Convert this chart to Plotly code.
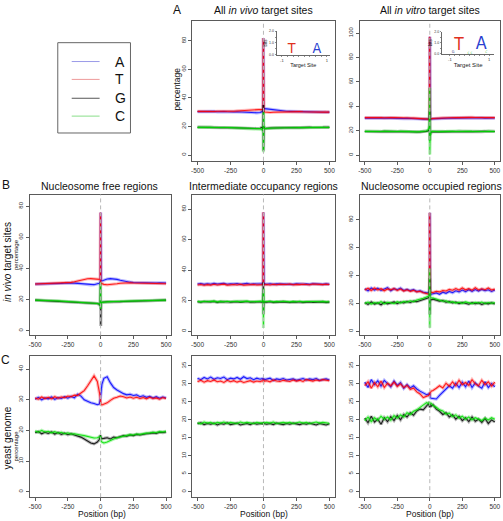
import plotly.graph_objects as go

W, H = 503, 521
FONT = "Liberation Sans, Arial, Helvetica, sans-serif"

# ---------------- data ----------------
positions = [-500, -475, -450, -425, -400, -375, -350, -325, -300, -275,
             -250, -225, -200, -175, -150, -125, -100, -75, -50, -25,
             -10, -3, -1, 0, 1, 3, 10,
             25, 50, 75, 100, 125, 150, 175, 200, 225, 250,
             275, 300, 325, 350, 375, 400, 425, 450, 475, 500]

bases = ["A", "T", "G", "C"]
x_ticks = [-500, -250, 0, 250, 500]
x_ticklabels = ["-500", "-250", "0", "250", "500"]

# A: all in vivo target sites
A1_A = [30.4, 30.5, 30.3, 30.5, 30.4, 30.6, 30.3, 30.5, 30.4, 30.3, 30.5, 30.2, 30.3, 30.1, 30.2, 30.0, 29.8, 29.7, 29.6, 29.8] + \
       [30.5, 31.5, 33.0, 82.0, 32.0, 33.0, 32.5] + \
       [32.3, 32.0, 31.6, 31.3, 31.0, 30.9, 30.7, 30.6, 30.5, 30.4, 30.5, 30.3, 30.4, 30.2, 30.3, 30.1, 30.2, 30.1, 30.0, 30.1]
A1_T = [30.6, 30.5, 30.7, 30.4, 30.6, 30.5, 30.7, 30.6, 30.5, 30.7, 30.8, 30.7, 30.9, 31.0, 31.1, 31.3, 31.5, 31.7, 31.8, 31.6] + \
       [31.5, 32.0, 82.0, 33.0, 31.0, 30.5, 30.2] + \
       [29.9, 29.8, 30.0, 30.1, 30.2, 30.3, 30.2, 30.4, 30.3, 30.2, 30.4, 30.3, 30.2, 30.4, 30.3, 30.2, 30.3, 30.1, 30.2, 30.1]
A1_G = [19.5, 19.4, 19.5, 19.3, 19.4, 19.3, 19.4, 19.2, 19.3, 19.2, 19.1, 19.2, 19.0, 19.1, 18.9, 19.0, 18.8, 18.7, 18.6, 18.8] + \
       [19.5, 17.0, 35.0, 3.0, 8.0, 20.0, 18.5] + \
       [18.8, 18.9, 19.0, 19.1, 19.0, 19.2, 19.1, 19.3, 19.2, 19.3, 19.2, 19.4, 19.3, 19.4, 19.3, 19.5, 19.4, 19.4, 19.5, 19.4]
A1_C = [19.4, 19.5, 19.3, 19.4, 19.5, 19.3, 19.4, 19.3, 19.2, 19.3, 19.2, 19.1, 19.2, 19.0, 19.1, 19.0, 18.9, 18.8, 18.7, 18.5] + \
       [18.0, 17.0, 22.0, 2.0, 30.0, 19.0, 18.5] + \
       [18.7, 18.8, 18.9, 19.0, 19.1, 19.0, 19.1, 19.2, 19.1, 19.2, 19.3, 19.2, 19.3, 19.2, 19.3, 19.4, 19.3, 19.4, 19.3, 19.4]

# A: all in vitro target sites
A2_A = [30.3, 30.5, 30.2, 30.4, 30.3, 30.5, 30.2, 30.4, 30.3, 30.1, 30.3, 30.2, 30.0, 30.2, 29.9, 30.1, 29.8, 29.6, 29.5, 29.4] + \
       [29.5, 30.0, 35.0, 97.0, 30.0, 29.8, 29.7] + \
       [29.8, 30.0, 30.1, 30.2, 30.3, 30.2, 30.4, 30.3, 30.5, 30.4, 30.3, 30.5, 30.4, 30.6, 30.4, 30.5, 30.3, 30.4, 30.5, 30.4]
A2_T = [30.7, 30.8, 30.6, 30.9, 30.7, 30.8, 30.6, 30.9, 30.7, 30.8, 30.6, 30.7, 30.5, 30.6, 30.4, 30.3, 30.1, 29.9, 29.7, 29.6] + \
       [29.5, 30.0, 97.0, 30.0, 29.5, 29.6, 29.8] + \
       [30.0, 30.2, 30.4, 30.5, 30.6, 30.7, 30.6, 30.8, 30.7, 30.9, 30.8, 30.7, 30.9, 30.8, 30.7, 30.9, 30.8, 30.7, 30.8, 30.7]
A2_G = [19.4, 19.3, 19.5, 19.2, 19.4, 19.3, 19.5, 19.3, 19.4, 19.2, 19.3, 19.4, 19.2, 19.3, 19.1, 19.2, 19.0, 19.1, 19.2, 19.5] + \
       [20.0, 22.0, 36.0, 12.0, 30.0, 17.0, 19.0] + \
       [19.3, 19.2, 19.1, 19.3, 19.2, 19.4, 19.3, 19.2, 19.4, 19.3, 19.5, 19.4, 19.3, 19.5, 19.4, 19.3, 19.5, 19.4, 19.3, 19.4]
A2_C = [19.5, 19.4, 19.6, 19.3, 19.5, 19.4, 19.6, 19.4, 19.5, 19.3, 19.4, 19.5, 19.3, 19.4, 19.2, 19.3, 19.1, 19.2, 19.4, 19.8] + \
       [21.0, 24.0, 55.0, 0.5, 25.0, 15.0, 19.5] + \
       [19.6, 19.4, 19.3, 19.5, 19.4, 19.6, 19.5, 19.4, 19.6, 19.5, 19.4, 19.6, 19.5, 19.4, 19.6, 19.5, 19.4, 19.6, 19.5, 19.4]

# B: in vivo target sites, nucleosome free regions
B1_A = [30.0, 30.0, 30.1, 30.1, 30.2, 30.2, 30.3, 30.3, 30.4, 30.5, 30.6, 30.7, 30.6, 30.4, 30.2, 29.9, 29.7, 29.5, 29.6, 30.2] + \
       [30.5, 31.5, 33.0, 76.0, 33.0, 32.5, 32.0] + \
       [32.5, 33.2, 33.5, 33.4, 33.0, 32.4, 31.9, 31.5, 31.2, 31.0, 30.9, 30.9, 30.8, 30.8, 30.8, 30.8, 30.7, 30.8, 30.7, 30.7]
B1_T = [30.0, 30.1, 30.1, 30.2, 30.2, 30.3, 30.3, 30.4, 30.5, 30.6, 30.8, 31.1, 31.5, 32.0, 32.6, 33.1, 33.4, 33.5, 33.3, 33.0] + \
       [33.0, 33.5, 76.0, 33.0, 31.0, 30.5, 30.2] + \
       [29.8, 29.5, 29.6, 29.9, 30.2, 30.5, 30.7, 30.8, 30.8, 30.7, 30.6, 30.5, 30.5, 30.4, 30.4, 30.3, 30.3, 30.3, 30.2, 30.2]
B1_G = [19.7, 19.6, 19.6, 19.5, 19.4, 19.3, 19.2, 19.1, 19.0, 18.9, 18.8, 18.6, 18.4, 18.2, 18.0, 17.9, 17.8, 17.7, 17.6, 17.5] + \
       [17.0, 16.0, 30.0, 4.0, 3.0, 18.0, 18.3] + \
       [18.5, 18.6, 18.6, 18.5, 18.6, 18.7, 18.8, 18.9, 18.9, 19.0, 19.1, 19.2, 19.2, 19.3, 19.4, 19.4, 19.5, 19.6, 19.6, 19.7]
B1_C = [19.7, 19.7, 19.6, 19.6, 19.5, 19.4, 19.3, 19.2, 19.1, 19.0, 18.9, 18.8, 18.7, 18.5, 18.4, 18.3, 18.2, 18.0, 17.8, 17.5] + \
       [17.2, 16.5, 31.0, 14.0, 20.0, 18.0, 18.2] + \
       [18.4, 18.6, 18.7, 18.8, 18.8, 18.9, 19.0, 19.0, 19.1, 19.2, 19.2, 19.3, 19.3, 19.4, 19.5, 19.5, 19.6, 19.6, 19.7, 19.7]

# B: intermediate occupancy regions
B2_A = [30.9, 31.2, 30.7, 31.1, 30.8, 31.3, 30.9, 31.0, 31.4, 30.8, 31.1, 30.9, 31.2, 30.7, 31.0, 31.3, 30.8, 31.1, 30.9, 31.2] + \
       [31.0, 32.0, 34.0, 78.0, 32.5, 31.5, 31.0] + \
       [30.8, 31.1, 30.7, 31.0, 30.9, 31.2, 30.8, 31.0, 30.7, 31.1, 30.9, 30.8, 31.0, 30.7, 31.1, 30.8, 30.9, 30.7, 31.0, 30.8]
B2_T = [30.3, 30.6, 30.1, 30.5, 30.2, 30.7, 30.3, 30.5, 30.8, 30.2, 30.4, 30.6, 30.3, 30.7, 30.2, 30.5, 30.4, 30.6, 30.3, 30.5] + \
       [30.5, 31.5, 78.0, 31.0, 30.3, 30.6, 30.4] + \
       [30.6, 30.3, 30.7, 30.4, 30.8, 30.5, 30.6, 30.9, 30.4, 30.7, 30.5, 30.8, 30.6, 30.4, 30.9, 30.6, 30.7, 30.5, 30.8, 30.6]
B2_G = [19.3, 19.0, 19.4, 19.1, 19.2, 19.5, 18.9, 19.3, 19.1, 19.4, 19.0, 19.2, 19.3, 18.9, 19.2, 19.4, 19.0, 19.3, 19.1, 19.2] + \
       [19.0, 20.0, 32.0, 11.0, 16.0, 19.5, 19.0] + \
       [19.0, 19.3, 18.9, 19.2, 19.0, 19.3, 19.1, 18.8, 19.2, 19.0, 19.3, 18.9, 19.1, 19.2, 18.9, 19.1, 19.0, 19.2, 18.9, 19.0]
B2_C = [19.5, 19.2, 19.6, 19.3, 19.5, 19.7, 19.2, 19.5, 19.3, 19.6, 19.3, 19.5, 19.6, 19.2, 19.4, 19.7, 19.3, 19.5, 19.4, 19.5] + \
       [19.5, 21.0, 25.0, 2.0, 28.0, 19.0, 19.3] + \
       [19.4, 19.6, 19.2, 19.5, 19.3, 19.6, 19.4, 19.2, 19.5, 19.3, 19.6, 19.2, 19.4, 19.5, 19.2, 19.4, 19.3, 19.5, 19.2, 19.3]

# B: nucleosome occupied regions
B3_A = [30.5, 29.0, 31.0, 29.5, 30.8, 29.3, 30.2, 31.2, 29.0, 30.5, 29.8, 30.9, 29.2, 30.0, 29.1, 29.8, 28.5, 29.0, 28.0, 27.5] + \
       [27.8, 28.5, 33.0, 85.0, 29.0, 27.0, 26.5] + \
       [26.8, 27.5, 26.5, 28.0, 27.2, 28.5, 27.6, 29.0, 28.2, 29.5, 28.4, 29.8, 28.6, 29.9, 28.8, 30.0, 29.0, 29.7, 28.5, 29.5]
B3_T = [29.5, 30.8, 29.2, 31.0, 29.6, 30.5, 29.0, 30.3, 29.7, 30.6, 29.2, 30.2, 28.8, 29.7, 28.6, 29.3, 28.2, 28.6, 27.6, 27.2] + \
       [27.0, 26.5, 85.0, 28.0, 28.5, 27.5, 28.0] + \
       [27.8, 28.6, 28.2, 29.2, 28.8, 30.0, 29.4, 30.6, 29.5, 31.0, 29.7, 30.5, 29.4, 31.2, 29.6, 30.4, 29.8, 31.0, 29.6, 30.2]
B3_G = [20.5, 19.2, 21.0, 19.5, 20.3, 19.0, 20.8, 19.6, 20.2, 21.0, 19.8, 20.9, 20.3, 21.3, 20.6, 21.6, 21.2, 22.0, 22.6, 23.5] + \
       [24.0, 25.0, 38.0, 12.0, 22.0, 23.0, 22.5] + \
       [23.0, 22.2, 21.6, 22.0, 20.8, 21.3, 20.3, 20.9, 19.8, 20.6, 20.1, 19.4, 20.5, 19.7, 20.3, 19.2, 20.1, 19.6, 20.4, 19.5]
B3_C = [19.8, 20.9, 19.5, 20.6, 20.0, 21.2, 19.7, 20.8, 20.4, 19.8, 21.2, 20.3, 21.4, 20.8, 21.8, 21.2, 22.4, 22.8, 23.6, 24.5] + \
       [25.0, 26.0, 45.0, 2.5, 30.0, 24.5, 24.0] + \
       [23.8, 23.0, 22.5, 21.5, 21.8, 20.6, 21.2, 20.2, 20.8, 20.0, 21.0, 20.4, 19.8, 20.7, 20.2, 20.9, 19.9, 20.6, 20.1, 20.5]

# C: yeast genome, nucleosome free regions
C1_A = [30.2, 30.8, 30.0, 30.6, 30.3, 30.9, 30.1, 30.7, 30.4, 31.0, 30.5, 31.1, 30.6, 31.8, 31.2, 30.0, 29.5, 29.0, 28.8, 28.4] + \
       [28.6, 29.5, 30.5, 31.0, 31.5, 33.0, 35.0] + \
       [37.0, 37.5, 35.5, 34.0, 33.2, 32.5, 32.0, 31.6, 31.8, 31.4, 31.6, 31.0, 31.3, 30.8, 31.1, 30.6, 31.0, 30.5, 30.9, 30.6]
C1_T = [30.6, 30.2, 30.9, 30.4, 30.8, 30.3, 31.0, 30.5, 30.9, 30.7, 31.2, 31.0, 31.5, 31.4, 32.2, 33.0, 34.5, 36.0, 37.8, 36.0] + \
       [33.0, 31.0, 30.0, 29.0, 28.6, 28.5, 28.3] + \
       [28.6, 29.0, 29.8, 30.5, 30.8, 31.2, 31.0, 30.6, 30.9, 30.5, 30.8, 30.4, 30.7, 30.3, 30.8, 30.4, 30.6, 30.2, 30.7, 30.4]
C1_G = [19.2, 19.6, 18.9, 19.4, 19.0, 19.5, 18.8, 19.3, 18.7, 19.1, 18.6, 18.9, 18.5, 18.2, 17.8, 17.2, 16.5, 15.9, 15.6, 16.2] + \
       [17.0, 18.0, 18.5, 18.3, 18.0, 17.6, 17.3] + \
       [17.4, 17.6, 17.2, 17.8, 17.6, 18.0, 18.3, 18.1, 18.5, 18.3, 18.7, 18.5, 18.8, 18.9, 19.0, 19.2, 19.0, 19.4, 19.3, 19.5]
C1_C = [19.8, 19.4, 20.0, 19.5, 19.7, 19.2, 19.6, 19.1, 19.4, 18.9, 19.2, 18.8, 18.9, 18.6, 18.5, 18.3, 18.0, 17.8, 17.5, 17.6] + \
       [17.8, 18.0, 18.2, 17.8, 17.2, 16.6, 16.2] + \
       [15.9, 16.2, 16.8, 17.2, 17.6, 17.9, 18.2, 18.3, 18.6, 18.5, 18.8, 18.7, 19.0, 19.1, 19.2, 19.4, 19.3, 19.6, 19.5, 19.7]

# C: intermediate occupancy regions
C2_A = [31.6, 31.2, 31.8, 31.4, 31.9, 31.3, 31.7, 31.5, 31.9, 31.2, 31.6, 31.4, 31.8, 31.3, 32.0, 31.5, 31.7, 31.2, 31.6, 31.3] + \
       [31.5, 31.2, 31.6, 31.4, 31.1, 31.5, 31.2] + \
       [31.3, 31.6, 31.0, 31.4, 31.2, 31.5, 31.1, 31.3, 31.4, 31.0, 31.3, 31.5, 31.1, 31.4, 31.2, 31.5, 31.0, 31.3, 31.4, 31.1]
C2_T = [30.6, 31.0, 30.5, 30.9, 30.7, 31.1, 30.6, 30.8, 30.4, 31.0, 30.6, 30.9, 30.5, 30.8, 30.4, 30.7, 30.9, 30.5, 30.8, 30.6] + \
       [30.9, 30.7, 31.0, 30.8, 30.6, 31.0, 30.8] + \
       [30.9, 30.6, 31.1, 30.8, 30.7, 31.0, 30.9, 30.7, 31.1, 30.8, 31.0, 30.7, 31.2, 30.9, 30.8, 31.1, 30.9, 31.2, 31.0, 30.9]
C2_G = [18.9, 19.2, 18.7, 19.0, 18.8, 19.1, 18.6, 19.0, 18.8, 19.2, 18.7, 18.9, 19.1, 18.6, 18.9, 19.0, 18.7, 19.1, 18.8, 19.0] + \
       [18.9, 19.1, 18.7, 19.0, 18.8, 19.1, 18.9] + \
       [18.8, 19.0, 18.7, 19.1, 18.9, 18.7, 19.0, 18.8, 19.1, 18.9, 18.7, 19.0, 18.8, 19.1, 18.9, 18.6, 19.0, 18.8, 18.6, 18.9]
C2_C = [19.2, 18.9, 19.4, 19.1, 19.3, 18.9, 19.3, 19.1, 19.4, 19.0, 19.3, 19.2, 19.0, 19.4, 19.1, 19.3, 19.2, 19.0, 19.3, 19.1] + \
       [19.2, 19.0, 19.3, 19.1, 19.3, 19.0, 19.2] + \
       [19.3, 19.1, 19.4, 19.0, 19.2, 19.3, 19.1, 19.3, 19.0, 19.2, 19.4, 19.1, 19.3, 19.0, 19.2, 19.4, 19.1, 19.3, 19.2, 19.0]

# C: nucleosome occupied regions
C3_A = [30.5, 29.0, 31.2, 29.8, 30.9, 29.4, 31.0, 30.0, 29.2, 30.8, 29.6, 30.4, 28.8, 29.8, 28.9, 29.5, 28.6, 28.0, 27.5, 27.0] + \
       [27.2, 26.8, 27.5, 27.0, 26.5, 26.2, 26.0] + \
       [26.0, 25.8, 26.8, 27.8, 28.6, 29.5, 28.8, 30.2, 29.0, 30.5, 29.2, 30.8, 29.0, 30.3, 29.4, 28.8, 30.6, 29.0, 30.1, 29.2]
C3_T = [29.5, 30.6, 28.8, 30.4, 29.2, 30.8, 29.0, 30.2, 29.5, 30.5, 29.3, 30.0, 29.0, 29.6, 28.5, 28.8, 27.8, 27.2, 26.2, 26.5] + \
       [26.8, 27.0, 26.6, 27.2, 27.8, 27.5, 28.0] + \
       [28.2, 28.8, 29.5, 28.9, 30.2, 29.4, 30.6, 29.5, 31.0, 29.8, 30.4, 29.6, 31.2, 30.0, 29.5, 31.0, 29.8, 30.6, 29.4, 30.5]
C3_G = [20.5, 19.2, 21.0, 19.4, 20.2, 18.8, 20.6, 19.5, 20.9, 19.8, 21.2, 20.0, 21.5, 20.8, 22.0, 21.3, 22.5, 23.0, 22.8, 24.0] + \
       [24.5, 23.8, 24.2, 23.5, 24.0, 24.6, 23.8] + \
       [24.2, 23.0, 22.4, 21.5, 22.0, 20.8, 21.4, 20.2, 21.0, 19.8, 20.6, 19.5, 20.8, 19.6, 20.2, 19.3, 20.4, 19.0, 20.0, 19.4]
C3_C = [19.8, 20.8, 19.5, 20.6, 19.9, 21.0, 20.2, 20.8, 19.9, 21.2, 20.5, 21.4, 20.8, 22.0, 21.5, 22.4, 22.8, 23.5, 24.2, 24.8] + \
       [24.5, 25.0, 24.2, 24.8, 25.0, 24.5, 24.6] + \
       [24.0, 23.5, 22.8, 22.5, 21.6, 21.9, 20.9, 21.4, 20.5, 21.0, 20.2, 20.8, 20.0, 20.6, 20.3, 19.8, 20.5, 20.0, 20.6, 20.2]

# sequence logo insets (information content in bits)
logo1_letters = ["T", "A"]
logo1_pos = [-0.56, 0.56]
logo1_bits = [0.85, 0.85]
logo2_letters = ["G", "T", "C", "C", "A", "C"]
logo2_pos = [-0.83, -0.53, -0.05, 0.1, 0.6, 0.86]
logo2_bits = [0.35, 1.55, 0.06, 0.06, 1.6, 0.3]
logo_y_ticks = [0, 0.5, 1, 1.5, 2]
logo_y_ticklabels = ["0.0", "", "1.0", "", "2.0"]
logo_x_ticks = [-1, -0.75, -0.5, -0.25, 0, 0.25, 0.5, 0.75, 1]
logo_x_ticklabels = ["-1", "", "", "", "", "", "", "", "1"]

# ---------------- styling ----------------
line_col = {"A": "#0000ff", "T": "#ff0000", "G": "#000000", "C": "#00e000"}
legend_col = {"A": "#9a9ae8", "T": "#ee9a9a", "G": "#555555", "C": "#8ade8a"}
logo_col = {"A": "#2a3fd0", "T": "#e0301e", "G": "#1f2f7a", "C": "#3fbf3f"}


def xd(a, b):
    return [a / W, b / W]


def yd(top, bottom):
    return [1 - bottom / H, 1 - top / H]


panels = [
    # name, data dict, x-domain px, y-domain px, yrange, yticks
    ("A1", dict(A=A1_A, T=A1_T, G=A1_G, C=A1_C), (192, 335), (19, 160), [-4, 94], [0, 20, 40, 60, 80]),
    ("A2", dict(A=A2_A, T=A2_T, G=A2_G, C=A2_C), (360, 501), (19, 160), [-4.6, 110], [0, 20, 40, 60, 80, 100]),
    ("B1", dict(A=B1_A, T=B1_T, G=B1_G, C=B1_C), (29, 171), (194, 336), [-3, 87.5], [0, 20, 40, 60, 80]),
    ("B2", dict(A=B2_A, T=B2_T, G=B2_G, C=B2_C), (192, 335), (194, 336), [-2.8, 89.6], [0, 20, 40, 60, 80]),
    ("B3", dict(A=B3_A, T=B3_T, G=B3_G, C=B3_C), (360, 501), (194, 336), [-3, 98], [0, 20, 40, 60, 80]),
    ("C1", dict(A=C1_A, T=C1_T, G=C1_G, C=C1_C), (29, 171), (357, 499), [-1.8, 44.2], [0, 10, 20, 30, 40]),
    ("C2", dict(A=C2_A, T=C2_T, G=C2_G, C=C2_C), (192, 335), (357, 499), [-1.5, 37.7], [0, 5, 10, 15, 20, 25, 30, 35]),
    ("C3", dict(A=C3_A, T=C3_T, G=C3_G, C=C3_C), (360, 501), (357, 499), [-1.5, 37.7], [0, 5, 10, 15, 20, 25, 30, 35]),
]

fig = go.Figure()
layout = dict(
    width=W, height=H, margin=dict(l=0, r=0, t=0, b=0),
    paper_bgcolor="white", plot_bgcolor="white", showlegend=False,
    font=dict(family=FONT, color="#222"),
)
shapes = []
annotations = []

axis_common = dict(
    showline=True, mirror=True, linecolor="#5a5a5a", linewidth=1,
    ticks="outside", ticklen=3, tickcolor="#5a5a5a", tickwidth=1,
    showgrid=False, zeroline=False, fixedrange=True,
)

for i, (name, data, xdom, ydom, yr, yt) in enumerate(panels, start=1):
    xa = "x" if i == 1 else f"x{i}"
    ya = "y" if i == 1 else f"y{i}"
    layout["xaxis" if i == 1 else f"xaxis{i}"] = dict(
        axis_common, domain=xd(*xdom), range=[-540, 540], anchor=ya,
        tickvals=x_ticks, ticktext=x_ticklabels,
        tickfont=dict(size=6.5, color="#333", family=FONT),
    )
    layout["yaxis" if i == 1 else f"yaxis{i}"] = dict(
        axis_common, domain=yd(*ydom), range=yr, anchor=xa,
        tickvals=yt, ticktext=[str(v) for v in yt], tickangle=-90,
        tickfont=dict(size=6, color="#333", family=FONT),
    )
    for b in bases:
        fig.add_trace(go.Scatter(x=positions, y=data[b], mode="lines", xaxis=xa, yaxis=ya,
                                 line=dict(color=line_col[b], width=3.2), opacity=0.28,
                                 hoverinfo="skip"))
        fig.add_trace(go.Scatter(x=positions, y=data[b], mode="lines", xaxis=xa, yaxis=ya,
                                 line=dict(color=line_col[b], width=1.1), opacity=0.85,
                                 name=b, hoverinfo="skip"))
    shapes.append(dict(type="line", xref=xa, yref=f"{ya} domain", x0=0, x1=0, y0=0, y1=1,
                       line=dict(color="#b8b8b8", width=1, dash="4px,3px")))

# ---------------- logo insets ----------------
insets = [
    (9, (277, 330), (29.3, 53.3), [-1.22, 1.13], logo1_letters, logo1_pos, logo1_bits, 12.0, 5.5),
    (10, (443, 495), (30, 52.3), [-1.39, 1.25], logo2_letters, logo2_pos, logo2_bits, 8.0, 6.0),
]
for idx, xdom, ydom, xr, letters, pos, bits, px_per_bit, tsize in insets:
    xa, ya = f"x{idx}", f"y{idx}"
    layout[f"xaxis{idx}"] = dict(
        domain=xd(*xdom), range=xr, anchor=ya, showline=True, linecolor="#444", linewidth=0.8,
        ticks="outside", ticklen=1.5, tickwidth=0.6, tickcolor="#444",
        tickvals=logo_x_ticks, ticktext=logo_x_ticklabels,
        tickfont=dict(size=4, color="#333", family=FONT),
        title=dict(text="Target Site", font=dict(size=tsize, color="#222", family=FONT), standoff=1),
        showgrid=False, zeroline=False, fixedrange=True,
    )
    layout[f"yaxis{idx}"] = dict(
        domain=yd(*ydom), range=[0, 2], anchor=xa, showline=True, linecolor="#444", linewidth=0.8,
        ticks="outside", ticklen=1.5, tickwidth=0.6, tickcolor="#444",
        tickvals=logo_y_ticks, ticktext=logo_y_ticklabels,
        tickfont=dict(size=3.5, color="#333", family=FONT),
        title=dict(text="bits", font=dict(size=4.5, color="#222", family=FONT), standoff=1),
        showgrid=False, zeroline=False, fixedrange=True,
    )
    fig.add_trace(go.Scatter(
        x=pos, y=[b / 2 for b in bits], mode="text", text=letters, xaxis=xa, yaxis=ya,
        textposition="middle center",
        textfont=dict(size=[max(3, b * px_per_bit / 0.72) for b in bits],
                      color=[logo_col[l] for l in letters],
                      family="Liberation Sans Narrow, DejaVu Sans Condensed, Liberation Sans, Arial, sans-serif"),
        hoverinfo="skip"))

# ---------------- legend box ----------------
shapes.append(dict(type="rect", xref="paper", yref="paper", x0=57 / W, x1=130 / W,
                   y0=1 - 132 / H, y1=1 - 41 / H, line=dict(color="#666", width=1)))
for b, ypx in zip(bases, [60, 78, 97, 115]):
    shapes.append(dict(type="line", xref="paper", yref="paper", x0=71 / W, x1=99 / W,
                       y0=1 - ypx / H, y1=1 - ypx / H, line=dict(color=legend_col[b], width=1)))
    annotations.append(dict(text=b, x=112 / W, y=1 - ypx / H, xref="paper", yref="paper",
                            xanchor="left", yanchor="middle", showarrow=False,
                            font=dict(size=14, color="#111", family=FONT)))


def ann(text, x, y, size, angle=0, xanchor="center", color="#111"):
    annotations.append(dict(text=text, x=x / W, y=1 - y / H, xref="paper", yref="paper",
                            xanchor=xanchor, yanchor="middle", showarrow=False, textangle=angle,
                            font=dict(size=size, color=color, family=FONT)))


ann("A", 177, 8, 12)
ann("All <i>in vivo</i> target sites", 264, 8, 10.5)
ann("All <i>in vitro</i> target sites", 431, 8, 10.5)
ann("B", 5, 184, 12)
ann("Nucleosome free regions", 99, 185, 10.5)
ann("Intermediate occupancy regions", 264, 185, 10.5)
ann("Nucleosome occupied regions", 432, 185, 10.5)
ann("C", 5, 361, 12)
ann("percentage", 177, 88, 8.5, angle=-90)
ann("<i>in vivo</i> target sites", 7, 262, 10, angle=-90)
ann("percentage", 15, 254, 6, angle=-90)
ann("yeast genome", 7, 439, 10, angle=-90)
ann("percentage", 15, 447, 6, angle=-90)
for cx in [101, 264, 431]:
    ann("Position (bp)", cx, 516, 8.5)

layout["shapes"] = shapes
layout["annotations"] = annotations
fig.update_layout(**layout)
fig.write_html("out.html",
               config={"displayModeBar": False, "staticPlot": True},
               post_script="document.body.style.margin='0';document.body.style.padding='0';"
                           "document.body.style.overflow='hidden';")
